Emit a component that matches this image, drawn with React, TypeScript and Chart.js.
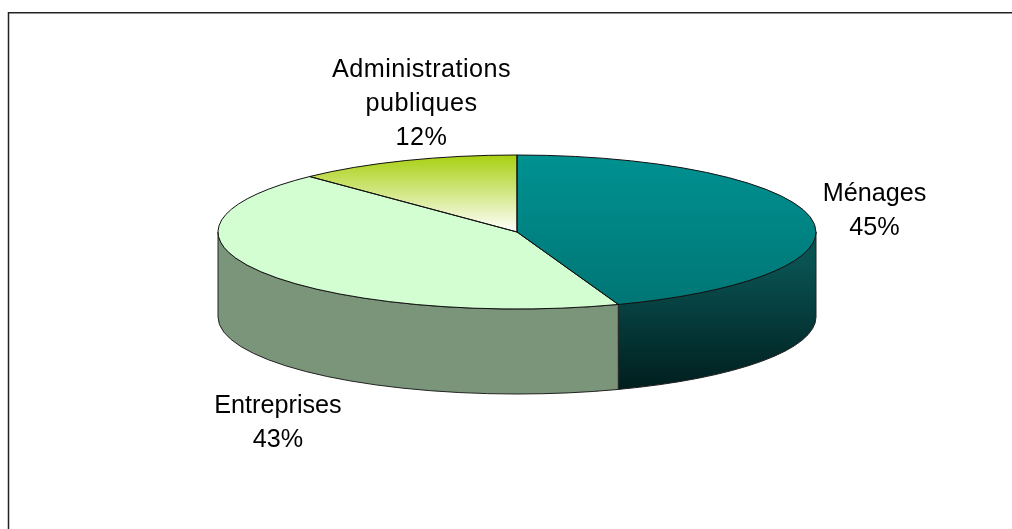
import React, { useEffect, useRef } from "react";
import { Chart, registerables } from "chart.js";

Chart.register(...registerables);

const categories = ["Ménages", "Entreprises", "Administrations publiques"];
const values = [44.5, 43.3, 12.2];
const labelNames = [["Ménages"], ["Entreprises"], ["Administrations", "publiques"]];
const sideColors: (string | string[])[] = [["#0a5252", "#001c1c"], "#7a957a", "#7a957a"];

const CX = 517;
const CY = 232;
const RX = 299;
const RY = 77;
const DEPTH = 85;
const K = RY / RX;
const LABEL_ANCHORS = [
  { x: 874.5, y: 200.5 },
  { x: 278, y: 412.5 },
  { x: 421.5, y: 77 },
];
const LABEL_SPACING = [0, 0, 0.45];
const LINE_HEIGHT = 34;
const FONT = '25.2px "Liberation Sans", Arial, sans-serif';

const toPie = (y: number) => CY + (y - CY) / K;

const pie3d = {
  id: "pie3d",
  beforeDatasetsDraw(chart: any) {
    const ctx: CanvasRenderingContext2D = chart.ctx;
    const arcs = chart.getDatasetMeta(0).data;
    // side wall, visible only on the lower half of the ellipse
    arcs.forEach((arc: any, i: number) => {
      const a0 = Math.max(arc.startAngle, 0);
      const a1 = Math.min(arc.endAngle, Math.PI);
      if (a1 <= a0) return;
      const path = () => {
        ctx.beginPath();
        ctx.ellipse(CX, CY, RX, RY, 0, a0, a1);
        ctx.ellipse(CX, CY + DEPTH, RX, RY, 0, a1, a0, true);
        ctx.closePath();
      };
      const c = sideColors[i];
      if (Array.isArray(c)) {
        const g = ctx.createLinearGradient(0, CY + 30, 0, CY + RY + DEPTH);
        g.addColorStop(0, c[0]);
        g.addColorStop(1, c[1]);
        ctx.fillStyle = g;
      } else ctx.fillStyle = c;
      path();
      ctx.fill();
      ctx.strokeStyle = "#222";
      ctx.lineWidth = 1;
      path();
      ctx.stroke();
    });
    ctx.save();
    ctx.translate(CX, CY);
    ctx.scale(1, K);
    ctx.translate(-CX, -CY);
  },
  afterDatasetsDraw(chart: any) {
    const ctx: CanvasRenderingContext2D = chart.ctx;
    ctx.restore();
    const arcs = chart.getDatasetMeta(0).data;
    ctx.strokeStyle = "#111";
    ctx.lineWidth = 1;
    arcs.forEach((arc: any) => {
      ctx.beginPath();
      ctx.moveTo(CX, CY);
      ctx.ellipse(CX, CY, RX, RY, 0, arc.startAngle, arc.endAngle);
      ctx.closePath();
      ctx.stroke();
    });
    ctx.fillStyle = "#000";
    ctx.font = FONT;
    ctx.textAlign = "center";
    ctx.textBaseline = "alphabetic";
    labelNames.forEach((names, i) => {
      const lines = [...names, `${Math.round(values[i])}%`];
      (ctx as any).letterSpacing = `${LABEL_SPACING[i]}px`;
      lines.forEach((t, j) => ctx.fillText(t, LABEL_ANCHORS[i].x, LABEL_ANCHORS[i].y + j * LINE_HEIGHT));
    });
    (ctx as any).letterSpacing = "0px";
  },
};

const frame = {
  id: "frame",
  beforeDraw(chart: any) {
    const ctx: CanvasRenderingContext2D = chart.ctx;
    ctx.fillStyle = "#fff";
    ctx.fillRect(0, 0, 1012, 529);
    ctx.strokeStyle = "#222";
    ctx.lineWidth = 1.5;
    ctx.beginPath();
    ctx.moveTo(8.5, 529);
    ctx.lineTo(8.5, 12.75);
    ctx.lineTo(1012, 12.75);
    ctx.stroke();
  },
};

export default function App() {
  const ref = useRef<HTMLCanvasElement>(null);
  useEffect(() => {
    const canvas = ref.current!;
    const ctx = canvas.getContext("2d")!;
    const teal = ctx.createLinearGradient(0, toPie(155), 0, toPie(309));
    teal.addColorStop(0, "#009191");
    teal.addColorStop(1, "#007575");
    const lime = ctx.createLinearGradient(0, toPie(155), 0, toPie(232));
    lime.addColorStop(0, "#a8d010");
    lime.addColorStop(1, "#ffffff");
    const chart = new Chart(canvas, {
      type: "pie",
      data: {
        labels: categories,
        datasets: [
          {
            data: values,
            backgroundColor: [teal, "#d2fed2", lime],
            borderWidth: 0,
            radius: RX,
          } as any,
        ],
      },
      options: {
        responsive: false,
        animation: false,
        layout: { padding: { top: 0, bottom: 529 - 2 * CY, left: 2 * CX - 1012, right: 0 } },
        plugins: { legend: { display: false }, tooltip: { enabled: false } },
      },
      plugins: [frame, pie3d],
    });
    return () => chart.destroy();
  }, []);
  return <canvas ref={ref} width={1012} height={529} style={{ display: "block", position: "fixed", left: 0, top: 0 }} />;
}
